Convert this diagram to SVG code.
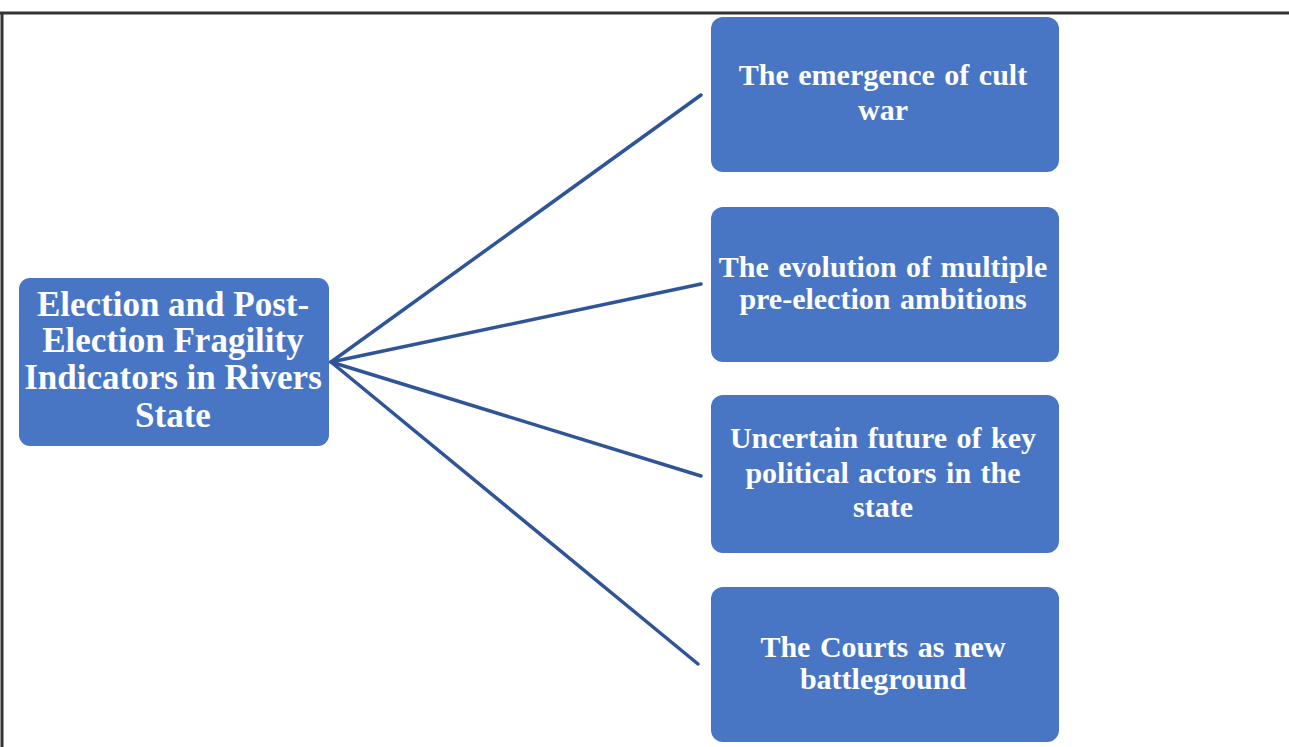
<svg xmlns="http://www.w3.org/2000/svg" width="1289" height="747" viewBox="0 0 1289 747">
<style>
.box{fill:#4876C4;}
.t{font-family:"Liberation Serif","Times New Roman",serif;font-weight:bold;fill:#ffffff;text-anchor:middle;}
.main{font-size:35px;}
.sub{font-size:30px;word-spacing:2px;}
.conn{stroke:#2F5597;stroke-width:3.5;fill:none;stroke-linecap:round;}
.frame{stroke:#333333;stroke-width:3;fill:none;}
</style>
<rect x="0" y="0" width="1289" height="747" fill="#ffffff"/>
<g id="frame">
<line class="frame" x1="0" y1="13" x2="1289" y2="13"/>
<line class="frame" x1="2" y1="13" x2="2" y2="747"/>
</g>
<g id="connectors">
<line class="conn" x1="331" y1="362" x2="701" y2="95"/>
<line class="conn" x1="331" y1="362" x2="701" y2="284"/>
<line class="conn" x1="331" y1="362" x2="701" y2="476"/>
<line class="conn" x1="331" y1="362" x2="698" y2="664"/>
</g>
<g id="root">
<rect class="box" x="19" y="278" width="310" height="168" rx="11"/>
<text class="t main" x="173" y="316">Election and Post-</text>
<text class="t main" x="173" y="352">Election Fragility</text>
<text class="t main" x="173" y="389">Indicators in Rivers</text>
<text class="t main" x="173" y="427">State</text>
</g>
<g id="n1">
<rect class="box" x="711" y="17" width="348" height="155" rx="12"/>
<text class="t sub" x="883" y="85">The emergence of cult</text>
<text class="t sub" x="883" y="120">war</text>
</g>
<g id="n2">
<rect class="box" x="711" y="207" width="348" height="155" rx="12"/>
<text class="t sub" x="883" y="277">The evolution of multiple</text>
<text class="t sub" x="883" y="309">pre-election ambitions</text>
</g>
<g id="n3">
<rect class="box" x="711" y="395" width="348" height="158" rx="12"/>
<text class="t sub" x="883" y="448">Uncertain future of key</text>
<text class="t sub" x="883" y="483">political actors in the</text>
<text class="t sub" x="883" y="517">state</text>
</g>
<g id="n4">
<rect class="box" x="711" y="587" width="348" height="155" rx="12"/>
<text class="t sub" x="883" y="657">The Courts as new</text>
<text class="t sub" x="883" y="689">battleground</text>
</g>
</svg>
